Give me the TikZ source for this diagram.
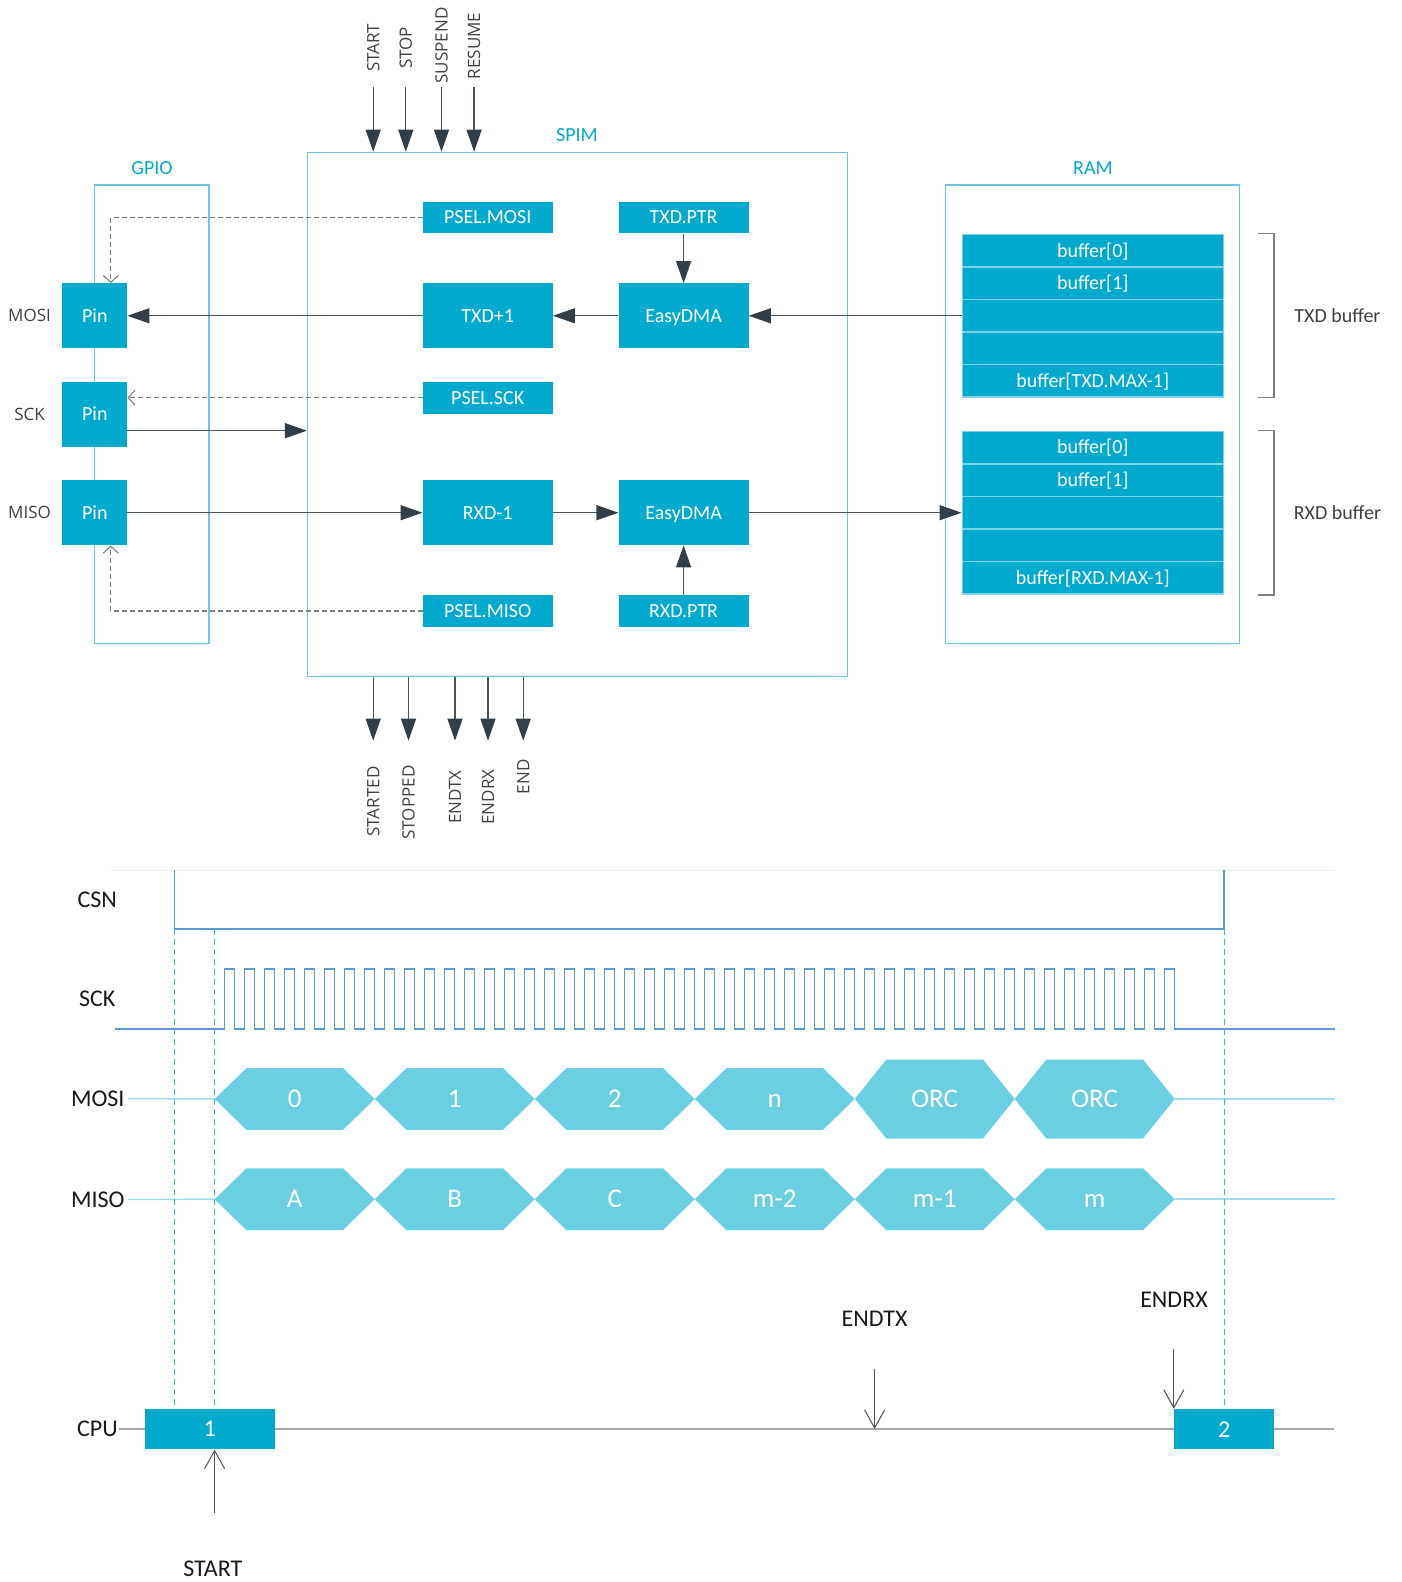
\documentclass[tikz,border=0pt]{standalone}
\usepackage{fontspec}
\setmainfont{Carlito}
\newfontfamily\evfont{Open Sans}
\usetikzlibrary{arrows.meta}
\definecolor{nordic}{HTML}{00A9CE}
\definecolor{frame}{HTML}{6CC5E3}
\definecolor{rowsep}{HTML}{7FD3E8}
\definecolor{arrowdark}{HTML}{333F48}
\definecolor{wire}{HTML}{4B555C}
\definecolor{dashgray}{HTML}{7F7F7F}
\definecolor{wave}{HTML}{5B9BD5}
\definecolor{hexfill}{HTML}{6BCFE2}
\definecolor{sideline}{HTML}{9FDDEB}
\definecolor{guide}{HTML}{3DB5D9}
\definecolor{cpuline}{HTML}{A6A6A6}
\definecolor{labeltext}{HTML}{404040}

\begin{document}
\begin{tikzpicture}[x=1pt,y=-1pt,
    font=\fontsize{20}{24}\selectfont,
    blk/.style={fill=nordic,text=white,inner sep=0pt,minimum width=130pt,text height=16.6pt,text depth=4pt},
    regbox/.style={blk,minimum height=31.6pt},
    unitbox/.style={blk,minimum height=65pt},
    pinbox/.style={blk,minimum width=64.7pt,minimum height=65pt},
    ramrow/.style={blk,draw=rowsep,line width=1.5pt,minimum width=261pt,minimum height=32.5pt},
    frm/.style={draw=frame,line width=1.2pt,inner sep=0pt},
    frmlbl/.style={text=nordic},
    sidelbl/.style={text=labeltext,font=\evfont\fontsize{17}{20}\selectfont},
    evlbl/.style={text=labeltext,rotate=90,font=\evfont\fontsize{17}{20}\selectfont},
    arr/.style={draw=wire,line width=1.3pt,-{Triangle[length=22pt,width=15pt,color=arrowdark]}},
    dsh/.style={draw=dashgray,line width=1.1pt,dash pattern=on 5pt off 3pt,-{Straight Barb[length=7pt,width=15pt]}},
    brk/.style={draw=dashgray,line width=1.2pt},
    tlbl/.style={text=black!90,font=\fontsize{24}{28}\selectfont},
    hexlbl/.style={text=white,font=\fontsize{27}{32}\selectfont,text height=21.1pt,text depth=4pt},
    cpubox/.style={fill=nordic,text=white,inner sep=0pt,minimum height=40.3pt,font=\fontsize{24}{28}\selectfont},
    wavel/.style={draw=wave,line width=1.5pt},
    sideln/.style={draw=sideline,line width=1.5pt},
    guideln/.style={draw=guide,line width=1.1pt,dash pattern=on 6pt off 4pt},
    cpuln/.style={draw=cpuline,line width=2.5pt},
    barb/.style={draw=black!65,line width=1.1pt,-{Straight Barb[length=18pt,width=20pt]}}]
  \useasboundingbox (0,0) rectangle (1402,1582);

  % frames
  \node[frm,minimum width=540pt,minimum height=524.2pt] (spim) at (577.5,414.4) {};
  \node[frm,minimum width=114.4pt,minimum height=458.3pt] (gpio) at (151.8,414.2) {};
  \node[frm,minimum width=294.5pt,minimum height=458.3pt] (ram) at (1092.5,414.2) {};
  \node[frmlbl] (spimlbl) at (577,135) {SPIM};
  \node[frmlbl] (gpiolbl) at (152,168) {GPIO};
  \node[frmlbl] (ramlbl) at (1093,168) {RAM};

  % SPIM blocks
  \node[regbox] (pmosi) at (487.7,217.5) {PSEL.MOSI};
  \node[regbox] (txptr) at (683.6,217.5) {TXD.PTR};
  \node[unitbox] (txd) at (487.7,315.8) {TXD+1};
  \node[unitbox] (dmatx) at (683.6,315.8) {EasyDMA};
  \node[regbox] (psck) at (487.7,397.7) {PSEL.SCK};
  \node[unitbox] (rxd) at (487.7,512.7) {RXD-1};
  \node[unitbox] (dmarx) at (683.6,512.7) {EasyDMA};
  \node[regbox] (pmiso) at (487.7,611) {PSEL.MISO};
  \node[regbox] (rxptr) at (683.6,611) {RXD.PTR};

  % pins
  \node[pinbox] (pinmosi) at (94.8,315.8) {Pin};
  \node[pinbox] (pinsck) at (94.8,414.3) {Pin};
  \node[pinbox] (pinmiso) at (94.8,512.7) {Pin};
  \node[sidelbl] (lmosi) at (29.5,315.8) {MOSI};
  \node[sidelbl] (lsck) at (29.5,414) {SCK};
  \node[sidelbl] (lmiso) at (29.5,512) {MISO};

  % RAM buffers
  \foreach \k/\t in {1/{buffer[0]},2/{buffer[1]},3/{},4/{},5/{buffer[TXD.MAX-1]}}
    \node[ramrow] (tx\k) at (1092.8,218.3+32.5*\k) {\t};
  \foreach \k/\t in {1/{buffer[0]},2/{buffer[1]},3/{},4/{},5/{buffer[RXD.MAX-1]}}
    \node[ramrow] (rx\k) at (1092.8,414.9+32.6*\k) {\t};
  \draw[brk] ([xshift=34pt]tx1.north east) -- ++(16,0) |- ([xshift=34pt]tx5.south east);
  \draw[brk] ([xshift=34pt]rx1.north east) -- ++(16,0) |- ([xshift=34pt]rx5.south east);
  \node[text=labeltext] (txbuf) at (1337.4,315.7) {TXD buffer};
  \node[text=labeltext] (rxbuf) at (1337.4,512.3) {RXD buffer};

  % data paths
  \draw[arr] (tx3.west) -- (tx3.west -| dmatx.east);
  \draw[arr] (txptr) -- (dmatx);
  \draw[arr] (dmatx) -- (txd);
  \draw[arr] (txd) -- (pinmosi);
  \draw[arr] ([yshift=-16.4pt]pinsck.east) -- ([yshift=-16.4pt]pinsck.east -| spim.west);
  \draw[arr] (pinmiso) -- (rxd);
  \draw[arr] (rxd) -- (dmarx);
  \draw[arr] (rxptr) -- (dmarx);
  \draw[arr] (dmarx.east) -- (dmarx.east -| rx3.west);
  \draw[dsh] (pmosi.west) -| ([xshift=16pt]pinmosi.north);
  \draw[dsh] (psck.west) -- (psck.west -| pinsck.east);
  \draw[dsh] (pmiso.west) -| ([xshift=16pt]pinmiso.south);

  % tasks and events
  \foreach \x/\y/\t in {373.2/47.8/START,405.8/48/STOP,441.5/45.5/SUSPEND,474.1/46/RESUME}{
    \node[evlbl] (ev\t) at (\x,\y) {\t};
    \coordinate (src\t) at (\x,86.7);
    \draw[arr] (src\t) -- (src\t |- spim.north);
  }
  \foreach \x/\y/\t in {373.2/763/STARTED,408.5/762/STOPPED,455/767/ENDTX,488/766/ENDRX,523.2/756/END}{
    \coordinate (dst\t) at (\x,740.7);
    \draw[arr] (dst\t |- spim.south) -- (dst\t);
    \node[evlbl,anchor=east] (ev\t) at (\x,\y) {\t};
  }

  % timing
  \draw[black!7,line width=1pt] (111,870) -- (1335,870);
  \node[tlbl] (tcsn) at (97.3,899.3) {CSN};
  \node[tlbl] (tsck) at (97.3,998.3) {SCK};
  \node[tlbl] (tmosi) at (97.8,1098.5) {MOSI};
  \node[tlbl] (tmiso) at (97.8,1199.3) {MISO};
  \node[tlbl] (tcpu) at (97.5,1429) {CPU};
  \draw[wavel] (174.6,870) |- (1224,929) -- (1224,870);
  \draw[wavel] (114.7,1029) -- (224.6,1029)
    \foreach \k in {1,...,48}{ -- ++(0,-60) -- ++(10,0) -- ++(0,60) -- ++(10,0)} -- (1334.7,1029);

  \coordinate (mosiL) at (214.7,1099);
  \coordinate (mosiR) at (1174.7,1099);
  \coordinate (mosiE) at (1334.7,1099);
  \coordinate (misoL) at (214.7,1199.2);
  \coordinate (misoR) at (1174.7,1199.2);
  \coordinate (misoE) at (1334.7,1199.2);
  \draw[sideln] (tmosi.east) -- (mosiL);
  \draw[sideln] (mosiR) -- (mosiE);
  \draw[sideln] (tmiso.east) -- (misoL);
  \draw[sideln] (misoR) -- (misoE);
  \foreach \i/\t/\h in {0/0/30.85,1/1/30.85,2/2/30.85,3/n/30.85,4/ORC/39.5,5/ORC/39.5}{
    \pgfmathsetmacro\xl{214.7+160*\i}
    \fill[hexfill] (\xl,1099) -- ++(31.7,-\h) -- ++(96.6,0) -- ++(31.7,\h) -- ++(-31.7,\h) -- ++(-96.6,0) -- cycle;
    \node[hexlbl] (mosi\i) at (\xl+80,1099) {\t};
  }
  \foreach \i/\t in {0/A,1/B,2/C,3/m-2,4/m-1,5/m}{
    \pgfmathsetmacro\xl{214.7+160*\i}
    \fill[hexfill] (\xl,1199.2) -- ++(31.7,-30.85) -- ++(96.6,0) -- ++(31.7,30.85) -- ++(-31.7,30.85) -- ++(-96.6,0) -- cycle;
    \node[hexlbl] (miso\i) at (\xl+80,1199.2) {\t};
  }

  % CPU
  \coordinate (cpuL) at (119,1429);
  \coordinate (cpuR) at (1334,1429);
  \draw[cpuln] (cpuL) -- (cpuR);
  \node[cpubox,minimum width=129.6pt] (cpu1) at (209.7,1429.2) {1};
  \node[cpubox,minimum width=100.2pt] (cpu2) at (1224.1,1429.2) {2};
  \coordinate (csnfall) at (174.6,929);
  \coordinate (sckstart) at (214.7,929);
  \coordinate (csnrise) at (1224.1,929);
  \draw[guideln] (csnfall) -- (csnfall |- cpu1.north);
  \draw[guideln] (sckstart) -- (sckstart |- cpu1.north);
  \draw[guideln] (csnrise) -- (cpu2.north);

  \coordinate (startsrc) at (214.6,1512.7);
  \draw[barb] (startsrc) -- (startsrc |- cpu1.south);
  \node[tlbl] (tstart) at (212.8,1568.3) {START};
  \coordinate (endtxsrc) at (874.6,1369);
  \draw[barb] (endtxsrc) -- (endtxsrc |- cpuL);
  \node[tlbl] (tendtx) at (874.6,1319) {ENDTX};
  \draw[barb] ([yshift=60pt]cpu2.north west) -- (cpu2.north west);
  \node[tlbl] (tendrx) at (1174,1299.3) {ENDRX};
\end{tikzpicture}
\end{document}
